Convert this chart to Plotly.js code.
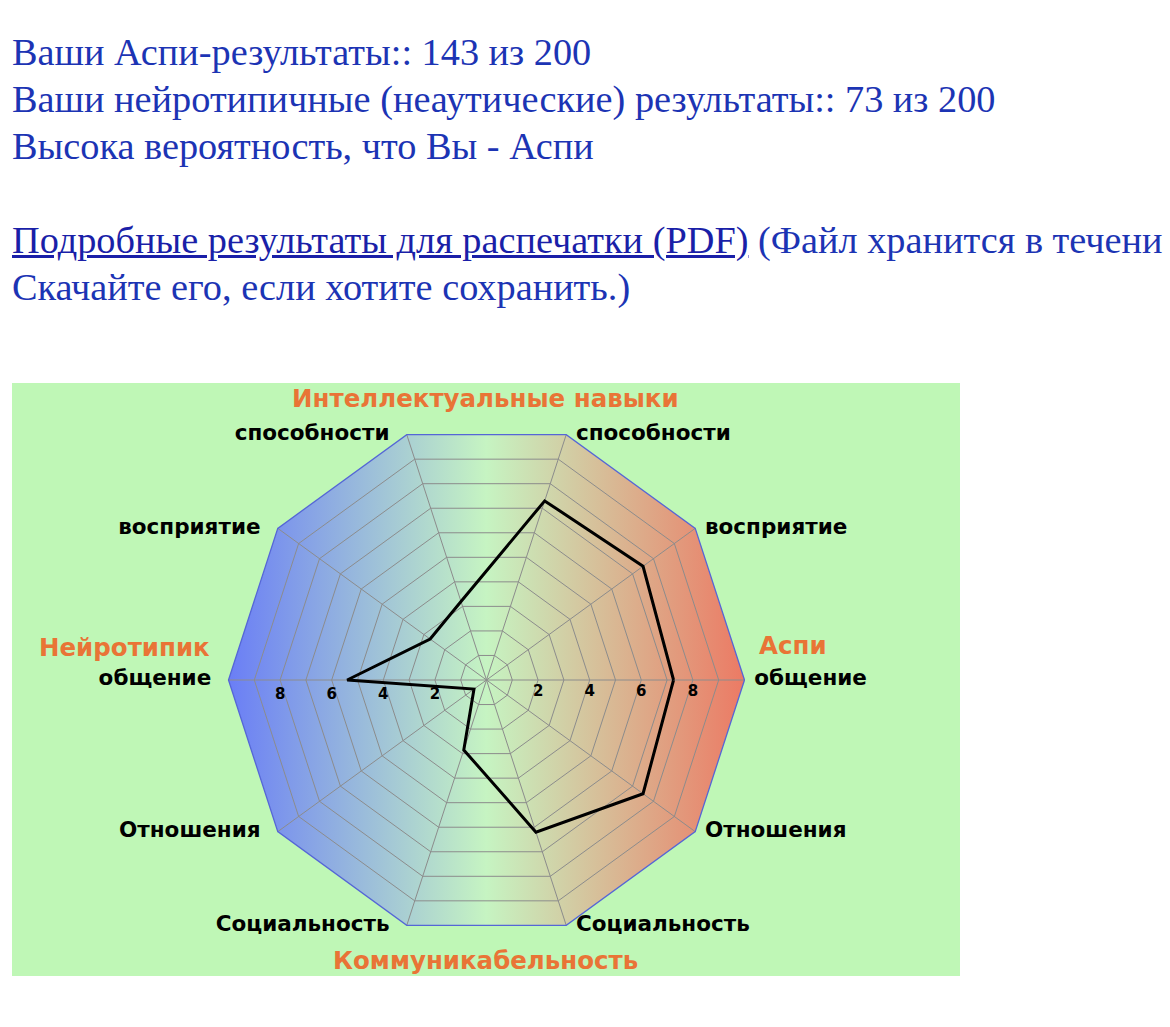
<!DOCTYPE html>
<html><head><meta charset="utf-8">
<script src="https://cdn.plot.ly/plotly-3.0.1.min.js"></script>
<style>
html,body{margin:0;padding:0;background:#fff;overflow:hidden;width:1170px;height:1027px;}
.txt{position:absolute;left:12px;top:29px;font-family:'Liberation Serif','Times New Roman',serif;font-size:38.3px;line-height:47px;color:#1c34b4;white-space:nowrap;}
a{color:#1a1fa8;text-decoration:underline;}
#chart{position:absolute;left:12px;top:383px;width:948px;height:593px;}
</style></head><body>
<div class="txt">Ваши Аспи-результаты:: 143 из 200<br>Ваши нейротипичные (неаутические) результаты:: 73 из 200<br>Высока вероятность, что Вы - Аспи<br><br><a href="#">Подробные результаты для распечатки (PDF)</a> (Файл хранится в течени<br>Скачайте его, если хотите сохранить.)</div>
<div id="chart"></div>
<script>
// ---- data ----
const categories = ['Аспи: общение', 'Аспи: восприятие', 'Аспи: способности', 'НТ: способности', 'НТ: восприятие',
                    'НТ: общение', 'НТ: Отношения', 'НТ: Социальность', 'Аспи: Социальность', 'Аспи: Отношения'];
const axisLabels = ['общение', 'восприятие', 'способности', 'способности', 'восприятие',
                    'общение', 'Отношения', 'Социальность', 'Социальность', 'Отношения'];
const scores = [7.25, 7.5, 7.3, 3.2, 2.7, 5.4, 0.6, 2.85, 6.2, 7.5];
const ringVals = [1, 2, 3, 4, 5, 6, 7, 8, 9];
const ringText = ['', '2', '', '4', '', '6', '', '8', ''];
const rMax = 10;
const groupLabels = ['Интеллектуальные навыки', 'Аспи', 'Нейротипик', 'Коммуникабельность'];

// ---- layout geometry ----
const W = 948, H = 593;
const cx = 474.5, cy = 297, R = 258;
const dx = [(cx - R) / W, (cx + R) / W];
const dy = [1 - (cy + R) / H, 1 - (cy - R) / H];

const n = categories.length;
const angOf = i => i * 2 * Math.PI / n;
const closeLoop = a => a.concat([a[0]]);
const frameX = closeLoop(categories.map((c, i) => rMax * Math.cos(angOf(i))));
const frameY = closeLoop(categories.map((c, i) => rMax * Math.sin(angOf(i))));
const isRight = categories.map((c, i) => Math.cos(angOf(i)) > 0);

const bold = (size, color) => ({family: 'DejaVu Sans, sans-serif', size: size, color: color, weight: 'bold'});
const orange = '#e97436';

const traces = [
  {type: 'scatter', x: frameX, y: frameY, mode: 'lines', fill: 'toself',
   line: {width: 0, color: 'rgba(0,0,0,0)'},
   fillgradient: {type: 'horizontal', colorscale: [[0, '#6a7ef6'], [0.5, '#c6f4c2'], [1, '#ec7a64']]},
   hoverinfo: 'skip', showlegend: false},
  {type: 'scatterpolar', subplot: 'polar', r: closeLoop(scores), theta: closeLoop(categories),
   mode: 'lines', line: {color: '#000', width: 3}, hoverinfo: 'skip', showlegend: false},
  {type: 'scatterpolar', subplot: 'polar', r: categories.map(() => rMax), theta: categories,
   mode: 'markers+text', text: axisLabels,
   textposition: isRight.map(v => v ? 'middle right' : 'middle left'),
   marker: {size: isRight.map(v => v ? 14 : 26), color: 'rgba(0,0,0,0)', line: {width: 0, color: 'rgba(0,0,0,0)'}},
   textfont: bold(21.5, '#000'), cliponaxis: false, hoverinfo: 'skip', showlegend: false},
  {type: 'scatterpolar', subplot: 'polar2', r: [0], theta: [0], mode: 'markers',
   marker: {opacity: 0, line: {width: 0}}, hoverinfo: 'skip', showlegend: false}
];

const layout = {
  width: W, height: H,
  margin: {l: 0, r: 0, t: 0, b: 0, pad: 0},
  paper_bgcolor: '#bff7b6', plot_bgcolor: 'rgba(0,0,0,0)',
  showlegend: false,
  xaxis: {domain: dx, range: [-rMax, rMax], visible: false, fixedrange: true},
  yaxis: {domain: dy, range: [-rMax, rMax], visible: false, fixedrange: true},
  polar: {
    domain: {x: dx, y: dy}, bgcolor: 'rgba(0,0,0,0)', gridshape: 'linear',
    radialaxis: {range: [0, rMax], tickmode: 'array', tickvals: ringVals, ticktext: ringText,
      angle: 0, side: 'clockwise', showline: false, ticks: '', gridcolor: '#8c8c8c', gridwidth: 1,
      tickfont: bold(15, '#000')},
    angularaxis: {type: 'category', categoryarray: categories, rotation: 0, direction: 'counterclockwise',
      showticklabels: false, ticks: '',
      showline: true, linecolor: '#5566d6', linewidth: 1.3, gridcolor: '#8c8c8c', gridwidth: 1}
  },
  polar2: {
    domain: {x: dx, y: dy}, bgcolor: 'rgba(0,0,0,0)',
    radialaxis: {range: [0, rMax], tickmode: 'array', tickvals: ringVals, ticktext: ringText,
      angle: 180, side: 'counterclockwise', tickangle: 180, showline: false, showgrid: false, ticks: '',
      tickfont: bold(15, '#000')},
    angularaxis: {visible: false}
  },
  annotations: [
    {text: groupLabels[0], xref: 'paper', yref: 'paper', x: 473 / W, y: 1 - 15 / H,
     xanchor: 'center', yanchor: 'middle', showarrow: false, font: bold(24.5, orange)},
    {text: groupLabels[1], xref: 'paper', yref: 'paper', x: 745 / W, y: 1 - 262 / H,
     xanchor: 'left', yanchor: 'middle', showarrow: false, font: bold(24.5, orange)},
    {text: groupLabels[2], xref: 'paper', yref: 'paper', x: 200 / W, y: 1 - 264 / H,
     xanchor: 'right', yanchor: 'middle', showarrow: false, font: bold(24.5, orange)},
    {text: groupLabels[3], xref: 'paper', yref: 'paper', x: 473 / W, y: 1 - 577 / H,
     xanchor: 'center', yanchor: 'middle', showarrow: false, font: bold(24.5, orange)}
  ]
};

Plotly.newPlot('chart', traces, layout, {displayModeBar: false, staticPlot: true});
</script>
</body></html>
